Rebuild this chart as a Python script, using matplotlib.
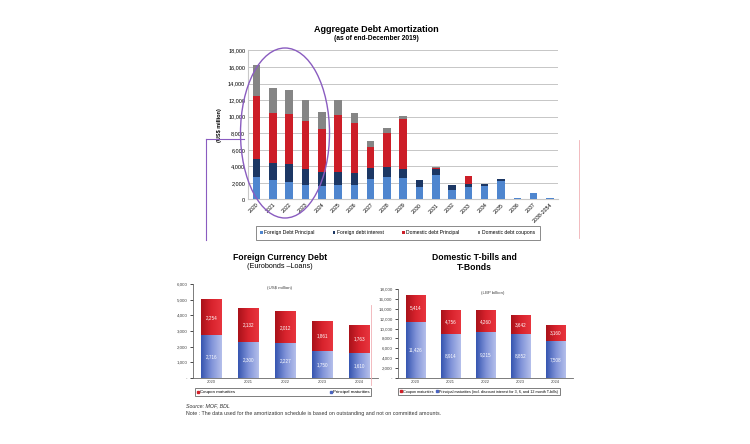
import numpy as np
import matplotlib
matplotlib.use('Agg')
import matplotlib.pyplot as plt
from matplotlib.colors import LinearSegmentedColormap
from matplotlib.patches import Ellipse
from matplotlib.lines import Line2D

plt.rcParams['font.family'] = ['Liberation Sans', 'DejaVu Sans']

# aggregate debt amortization (US$ million)
years_all = ['2020', '2021', '2022', '2023', '2024', '2025', '2026', '2027', '2028', '2029',
             '2030', '2031', '2032', '2033', '2034', '2035', '2036', '2037', '2038-2054']
foreign_principal = [2750, 2340, 2140, 1800, 1650, 1800, 1740, 2420, 2740, 2620,
                     1530, 2950, 1130, 1530, 1650, 2220, 160, 800, 150]
foreign_interest = [2200, 2100, 2100, 1830, 1700, 1550, 1490, 1330, 1130, 1010,
                    810, 690, 570, 400, 200, 200, 0, 0, 0]
domestic_principal = [7550, 5970, 6090, 5850, 5130, 6860, 5970, 2540, 4120, 6130,
                      0, 200, 0, 930, 0, 0, 0, 0, 0]
domestic_coupons = [3750, 3110, 2910, 2500, 2100, 1820, 1210, 770, 600, 320,
                    0, 80, 0, 0, 0, 0, 0, 0, 0]

# foreign currency debt (US$ million)
years5 = ['2020', '2021', '2022', '2023', '2024']
fx_principal = [2716, 2300, 2227, 1750, 1610]
fx_coupon = [2254, 2132, 2012, 1861, 1763]

# domestic T-bills and T-bonds (LBP billion)
dom_principal = [11426, 8914, 9215, 8852, 7508]
dom_coupon = [5414, 4756, 4260, 3642, 3160]

W, H = 750, 444
fig = plt.figure(figsize=(7.5, 4.44), dpi=100)
fig.patch.set_facecolor('white')


def box(x0, y0, x1, y1):
    # pixel box (top-left origin) -> figure fraction rect
    return [x0 / W, 1 - y1 / H, (x1 - x0) / W, (y1 - y0) / H]


def fx(x):
    return x / W


def fy(y):
    return 1 - y / H


# ---------------- top chart ----------------
ax = fig.add_axes(box(248, 50.5, 558, 199.5))
x = np.arange(len(years_all))
c_fp, c_fi, c_dp, c_dc = '#4f86cf', '#1c3764', '#cc1e28', '#858585'
bw = 0.46
b = np.zeros(len(x))
for vals, col, lab in [(foreign_principal, c_fp, 'Foreign Debt Principal'),
                       (foreign_interest, c_fi, 'Foreign debt interest'),
                       (domestic_principal, c_dp, 'Domestic debt Principal'),
                       (domestic_coupons, c_dc, 'Domestic debt coupons')]:
    ax.bar(x, vals, bw, bottom=b, color=col, label=lab, zorder=3)
    b = b + np.array(vals)
ax.set_ylim(0, 18000)
ax.set_xlim(-0.53, 18.5)
ax.set_yticks(np.arange(0, 18001, 2000))
ax.set_yticklabels([f'{v:,}' for v in range(0, 18001, 2000)], fontsize=4)
ax.set_xticks(x)
ax.set_xticklabels(years_all, rotation=45, ha='right', rotation_mode='anchor', fontsize=3.8)
ax.tick_params(length=0, pad=2)
ax.grid(axis='y', color='#bdbdbd', linewidth=0.6, zorder=0)
for s in ['top', 'right']:
    ax.spines[s].set_visible(False)
ax.spines['left'].set_color('#c8c8c8')
ax.spines['bottom'].set_color('#c8c8c8')
ax.set_ylabel('(US$ million)', fontsize=4, fontweight='bold', labelpad=4)
leg = ax.legend(loc='upper left', bbox_to_anchor=((253 - 248) / 310, -0.26, (542 - 253) / 310, 0.1),
                mode='expand', ncol=4, fontsize=3.6, frameon=True, fancybox=False,
                edgecolor='#555555', handlelength=0.5, handleheight=0.5, borderpad=0.9,
                handletextpad=0.3)
leg.get_frame().set_linewidth(0.6)

fig.text(fx(376), fy(29), 'Aggregate Debt Amortization', ha='center', va='center',
         fontsize=6.5, fontweight='bold')
fig.text(fx(376), fy(38), '(as of end-December 2019)', ha='center', va='center',
         fontsize=4.8, fontweight='bold')

# purple highlight ellipse and connector lines
purple = '#8a5cc0'
fig.patches.append(Ellipse((fx(285), fy(133)), 89 / W, 170 / H, angle=0, fill=False,
                           edgecolor=purple, linewidth=1.0, transform=fig.transFigure))
fig.add_artist(Line2D([fx(206), fx(244)], [fy(139), fy(139)], color=purple, linewidth=0.8))
fig.add_artist(Line2D([fx(206), fx(206)], [fy(139), fy(240)], color=purple, linewidth=0.8))
fig.add_artist(Line2D([fx(579), fx(579)], [fy(140), fy(238)], color='#f0b0b4', linewidth=0.6))
fig.add_artist(Line2D([fx(371), fx(371)], [fy(305), fy(385)], color='#f0b0b4', linewidth=0.6))

blue_cm = LinearSegmentedColormap.from_list('b', ['#3655b0', '#7f92d8', '#b4bfeb'])
red_cm = LinearSegmentedColormap.from_list('r', ['#a9121a', '#d8232d', '#e8353e'])
grad = np.linspace(0, 1, 64).reshape(1, -1)


def grad_bars(ax, bars, cmap):
    for p in bars:
        x0, y0 = p.get_x(), p.get_y()
        ax.imshow(grad, cmap=cmap, aspect='auto', zorder=3,
                  extent=(x0, x0 + p.get_width(), y0, y0 + p.get_height()))
        p.set_facecolor('none')


def lower_chart(ax, principal, coupon, top, step, unit, unit_x, legend_labels, legend_w, leg_y,
                leg_fs=3.2, expand=True):
    xi = np.arange(len(years5))
    bp = ax.bar(xi, principal, 0.56, color='#6f84d0', zorder=3, label=legend_labels[1])
    bc = ax.bar(xi, coupon, 0.56, bottom=principal, color='#d02029', zorder=3,
                label=legend_labels[0])
    grad_bars(ax, bp, blue_cm)
    grad_bars(ax, bc, red_cm)
    for i in xi:
        ax.text(i, principal[i] / 2, f'{principal[i]:,}', ha='center', va='center',
                color='white', fontsize=3.3, zorder=4)
        ax.text(i, principal[i] + coupon[i] / 2, f'{coupon[i]:,}', ha='center', va='center',
                color='white', fontsize=3.3, zorder=4)
    ax.set_xlim(-0.5, 4.5)
    ax.set_ylim(0, top)
    ticks = np.arange(0, top + 1, step)
    ax.set_yticks(ticks)
    ax.set_yticklabels(['-'] + [f'{v:,}' for v in ticks[1:]], fontsize=3.2, color='#444444')
    ax.set_xticks(xi)
    ax.set_xticklabels(years5, fontsize=3.0, color='#444444')
    ax.tick_params(axis='y', length=2, width=0.5, pad=2)
    ax.tick_params(axis='x', length=0, pad=1.5)
    for s in ['top', 'right']:
        ax.spines[s].set_visible(False)
    ax.spines['left'].set_linewidth(0.6)
    ax.spines['bottom'].set_linewidth(0.6)
    ax.spines['left'].set_color('#666666')
    ax.spines['bottom'].set_color('#666666')
    ax.text(unit_x, 0.96, unit, transform=ax.transAxes, ha='center', va='center',
            fontsize=3.2, color='#444444')
    handles = [Line2D([], [], marker='s', linestyle='none', color='#d02029', markersize=1.6),
               Line2D([], [], marker='s', linestyle='none', color='#4a64c0', markersize=1.6)]
    if expand:
        leg = ax.legend(handles, legend_labels, loc='upper left',
                        bbox_to_anchor=(0, leg_y - 0.05, legend_w, 0.05), mode='expand', ncol=2,
                        fontsize=leg_fs, frameon=True, fancybox=False, edgecolor='#444444',
                        handlelength=0.6, handletextpad=0.2, borderpad=0.35, columnspacing=1.0)
    else:
        leg = ax.legend(handles, legend_labels, loc='upper left',
                        bbox_to_anchor=(-0.01, leg_y), ncol=2,
                        fontsize=leg_fs, frameon=True, fancybox=False, edgecolor='#444444',
                        handlelength=0.6, handletextpad=0.2, borderpad=0.45, columnspacing=0.8)
    leg.get_frame().set_linewidth(0.6)


ax2 = fig.add_axes(box(193, 284, 378, 378))
lower_chart(ax2, fx_principal, fx_coupon, 6000, 1000, '(US$ million)', 0.47,
            ['Coupon maturities', 'Principal maturities'], 0.975, -0.087)

ax3 = fig.add_axes(box(398, 289, 573, 378))
lower_chart(ax3, dom_principal, dom_coupon, 18000, 2000, '(LBP billion)', 0.54,
            ['Coupon maturities',
             'Principal maturities (incl. discount interest for 3, 6, and 12 month T-bills)'],
            1.03, -0.092, leg_fs=2.7, expand=False)

fig.text(fx(280), fy(258), 'Foreign Currency Debt', ha='center', va='center',
         fontsize=6.2, fontweight='bold')
fig.text(fx(280), fy(266.5), '(Eurobonds \u2013Loans)', ha='center', va='center',
         fontsize=5.2)
fig.text(fx(474), fy(258), 'Domestic T-bills and', ha='center', va='center',
         fontsize=6.2, fontweight='bold')
fig.text(fx(474), fy(267.5), 'T-Bonds', ha='center', va='center',
         fontsize=6.2, fontweight='bold')

fig.text(fx(186), fy(406), 'Source: MOF, BDL', ha='left', va='center', fontsize=3.8,
         style='italic', color='#333333')
fig.text(fx(186), fy(413.5), 'Note : The data used for the amortization schedule is based on '
         'outstanding and not on committed amounts.', ha='left', va='center', fontsize=3.8,
         color='#333333')

fig.savefig('out.png', dpi=100)
